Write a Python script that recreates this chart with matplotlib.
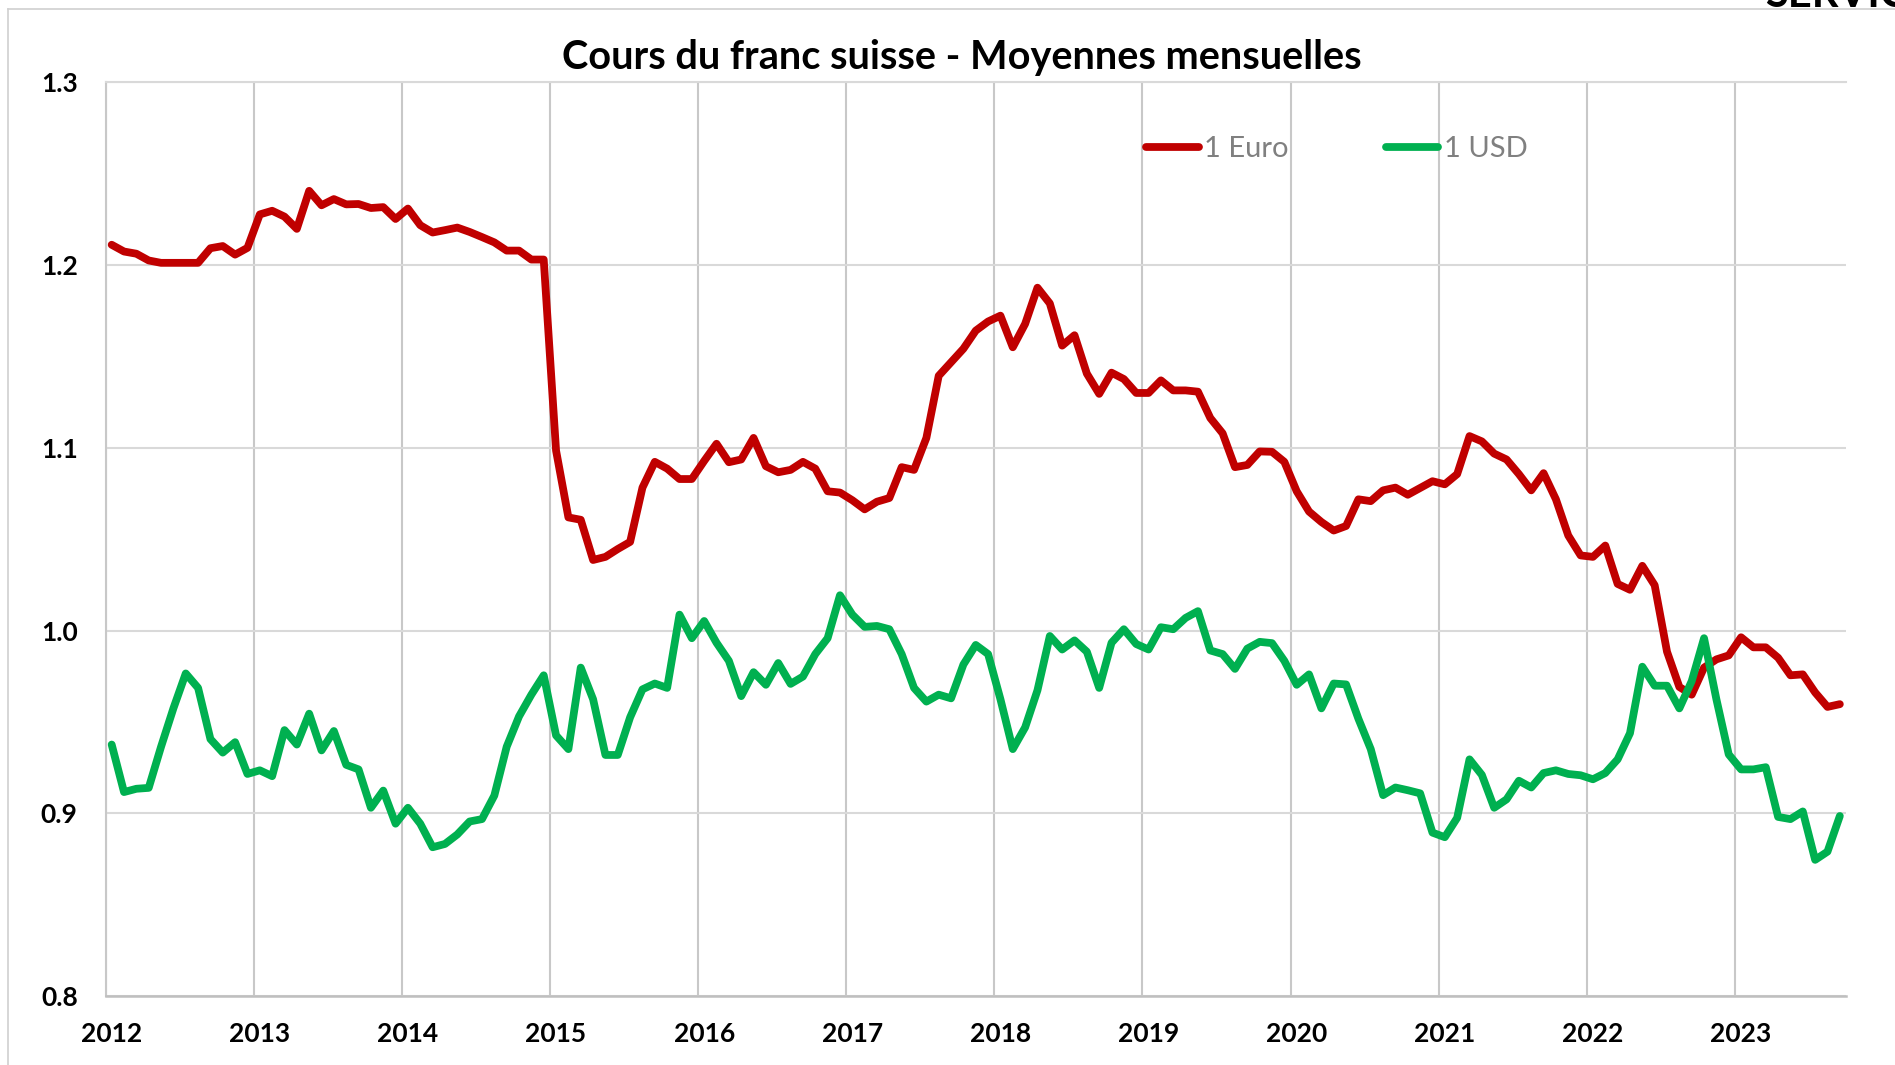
import numpy as np
import matplotlib
matplotlib.use("Agg")
import matplotlib.pyplot as plt

plt.rcParams["font.family"] = ["Lato", "DejaVu Sans"]

# Monthly averages, Jan 2012 .. Sep 2023
years = [str(y) for y in range(2012, 2024)]

euro = [
    1.2111, 1.2074, 1.2062, 1.2025, 1.2012, 1.2012, 1.2012, 1.2012, 1.2092, 1.2104, 1.2057, 1.2094,
    1.2277, 1.2297, 1.2265, 1.2198, 1.2406, 1.2327, 1.2361, 1.2332, 1.2334, 1.2312, 1.2317, 1.2252,
    1.2309, 1.2218, 1.2178, 1.2191, 1.2205, 1.2181, 1.2153, 1.2124, 1.2079, 1.2079, 1.2030, 1.2030,
    1.0985, 1.0619, 1.0606, 1.0386, 1.0403, 1.0446, 1.0485, 1.0782, 1.0923, 1.0886, 1.0829, 1.0829,
    1.0928, 1.1022, 1.0921, 1.0936, 1.1054, 1.0899, 1.0866, 1.0879, 1.0923, 1.0886, 1.0762, 1.0755,
    1.0713, 1.0663, 1.0705, 1.0725, 1.0894, 1.0879, 1.1054, 1.1394, 1.1468, 1.1542, 1.1641, 1.1691,
    1.1723, 1.1550, 1.1678, 1.1876, 1.1790, 1.1559, 1.1616, 1.1406, 1.1295, 1.1411, 1.1376, 1.1300,
    1.1300, 1.1369, 1.1314, 1.1314, 1.1307, 1.1163, 1.1079, 1.0894, 1.0906, 1.0980, 1.0978, 1.0923,
    1.0762, 1.0651, 1.0594, 1.0547, 1.0572, 1.0718, 1.0708, 1.0767, 1.0782, 1.0743, 1.0780, 1.0817,
    1.0800, 1.0856, 1.1064, 1.1035, 1.0968, 1.0936, 1.0856, 1.0767, 1.0861, 1.0718, 1.0520, 1.0411,
    1.0403, 1.0465, 1.0255, 1.0223, 1.0354, 1.0248, 0.9884, 0.9691, 0.9649, 0.9797, 0.9842, 0.9864,
    0.9963, 0.9908, 0.9908, 0.9851, 0.9755, 0.9760, 0.9661, 0.9582, 0.9597,
]

usd = [
    0.9376, 0.9116, 0.9134, 0.9139, 0.9364, 0.9574, 0.9765, 0.9686, 0.9406, 0.9332, 0.9389, 0.9215,
    0.9235, 0.9203, 0.9455, 0.9376, 0.9545, 0.9344, 0.9450, 0.9265, 0.9240, 0.9030, 0.9124, 0.8943,
    0.9030, 0.8943, 0.8814, 0.8832, 0.8884, 0.8955, 0.8968, 0.9097, 0.9364, 0.9530, 0.9649, 0.9755,
    0.9426, 0.9351, 0.9797, 0.9624, 0.9319, 0.9319, 0.9525, 0.9678, 0.9710, 0.9686, 1.0087, 0.9958,
    1.0052, 0.9933, 0.9834, 0.9641, 0.9772, 0.9703, 0.9822, 0.9708, 0.9748, 0.9871, 0.9958, 1.0193,
    1.0087, 1.0020, 1.0025, 1.0007, 0.9871, 0.9686, 0.9611, 0.9649, 0.9629, 0.9814, 0.9921, 0.9871,
    0.9624, 0.9351, 0.9470, 0.9673, 0.9970, 0.9896, 0.9946, 0.9884, 0.9686, 0.9933, 1.0007, 0.9926,
    0.9896, 1.0018, 1.0007, 1.0069, 1.0106, 0.9891, 0.9871, 0.9790, 0.9901, 0.9938, 0.9931, 0.9834,
    0.9703, 0.9760, 0.9574, 0.9710, 0.9705, 0.9517, 0.9351, 0.9099, 0.9141, 0.9126, 0.9109, 0.8894,
    0.8869, 0.8975, 0.9295, 0.9210, 0.9030, 0.9076, 0.9178, 0.9141, 0.9220, 0.9235, 0.9215, 0.9208,
    0.9186, 0.9220, 0.9295, 0.9438, 0.9802, 0.9698, 0.9698, 0.9574, 0.9723, 0.9958, 0.9624, 0.9322,
    0.9240, 0.9240, 0.9252, 0.8980, 0.8968, 0.9010, 0.8745, 0.8790, 0.8985,
]

y_ticks = [0.8, 0.9, 1.0, 1.1, 1.2, 1.3]

fig = plt.figure(figsize=(18.95, 10.65), dpi=100)
ax = fig.add_axes([105.5 / 1895, 69 / 1065, 1740.5 / 1895, 913.7 / 1065])

x = np.arange(len(euro))
ax.plot(x, euro, color="#C00000", lw=5.6, solid_joinstyle="round",
        solid_capstyle="round", label="1 Euro", zorder=3)
ax.plot(x, usd, color="#00B050", lw=5.6, solid_joinstyle="round",
        solid_capstyle="round", label="1 USD", zorder=3)

ax.set_xlim(-0.5, len(euro) - 0.5)
ax.set_ylim(0.8, 1.3)

ax.set_yticks(y_ticks)
ax.set_yticklabels([f"{v:.1f}" for v in y_ticks])
ax.set_xticks(np.arange(len(years)) * 12)
ax.set_xticklabels(years)
ax.set_xticks(np.arange(len(years)) * 12 - 0.5, minor=True)

ax.tick_params(axis="both", which="both", length=0)
ax.tick_params(axis="y", pad=20, labelsize=19)
ax.tick_params(axis="x", pad=19, labelsize=19)
for lab in ax.get_xticklabels() + ax.get_yticklabels():
    lab.set_fontweight("bold")

ax.yaxis.grid(True, color="#D9D9D9", lw=1.5)
ax.xaxis.grid(True, which="minor", color="#C8C8C8", lw=1.5)
ax.set_axisbelow(True)

ax.spines["right"].set_visible(False)
ax.spines["top"].set_color("#D9D9D9")
ax.spines["top"].set_linewidth(1.5)
ax.spines["left"].set_color("#C8C8C8")
ax.spines["left"].set_linewidth(1.5)
ax.spines["bottom"].set_color("#BFBFBF")
ax.spines["bottom"].set_linewidth(1.8)

fig.text(962 / 1895, 1 - 57 / 1065, "Cours du franc suisse - Moyennes mensuelles",
         ha="center", va="center", fontsize=28.5, fontweight="bold")

leg = ax.legend(loc="center left", bbox_to_anchor=(1146 / 1895, 1 - 149 / 1065),
                bbox_transform=fig.transFigure, ncol=2, frameon=False,
                fontsize=21, handlelength=1.8, handletextpad=0.18,
                columnspacing=3.35, borderpad=0, borderaxespad=0)
for t in leg.get_texts():
    t.set_color("#808080")

# chart frame, partly cropped in the source picture
fig.add_artist(plt.Line2D([8 / 1895, 8 / 1895], [0, 1 - 9 / 1065],
                          transform=fig.transFigure, color="#D0D0D0", lw=1.2))
fig.add_artist(plt.Line2D([8 / 1895, 1], [1 - 9 / 1065, 1 - 9 / 1065],
                          transform=fig.transFigure, color="#D0D0D0", lw=1.2))
fig.text(1765 / 1895, 1 - 7 / 1065, "SERVICE", ha="left", va="baseline",
         fontsize=30, fontweight="bold")

fig.savefig("out.png", dpi=100)
